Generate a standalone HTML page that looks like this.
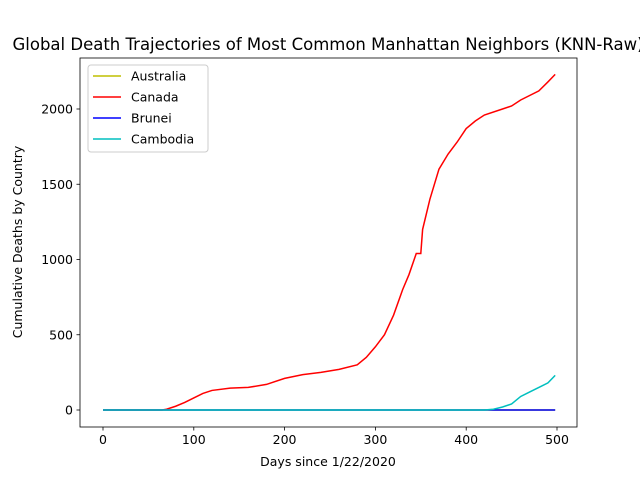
<!DOCTYPE html>
<html><head><meta charset="utf-8"><style>
body{margin:0;background:#fff;width:640px;height:480px;overflow:hidden;font-family:"DejaVu Sans","Liberation Sans",sans-serif}
svg text{font-family:"DejaVu Sans","Liberation Sans",sans-serif;fill:#000}
</style></head><body>
<svg id="c" width="640" height="480" xmlns="http://www.w3.org/2000/svg"></svg>
<script>
const canadaDays=[0,65,70,80,90,100,110,120,140,160,180,200,220,240,260,280,290,300,310,320,330,337,345,350,352,360,370,380,390,400,410,420,440,450,460,480,490,498];
const canadaVals=[0,0,5,25,50,80,110,130,145,150,170,210,235,250,270,300,350,420,500,630,800,900,1040,1040,1200,1400,1600,1700,1780,1870,1920,1960,2000,2020,2060,2120,2180,2230];
const cambodiaDays=[0,420,430,440,450,460,470,480,490,498];
const cambodiaVals=[0,0,5,20,40,90,120,150,180,230];
const zeroDays=[0,498];
const zeroVals=[0,0];
const xTicks=[0,100,200,300,400,500];
const yTicks=[0,500,1000,1500,2000];
const legendNames=["Australia","Canada","Brunei","Cambodia"];
const legendColors=["#bfbf00","#ff0000","#0000ff","#00bfbf"];

const L=80,R=577,T=58,B=427;
const X=d=>103+d*(557-103)/500;
const Y=v=>410-v*(410-109)/2000;
const svg=document.getElementById('c');
const NS="http://www.w3.org/2000/svg";
function mk(t,a,p){const e=document.createElementNS(NS,t);for(const k in a)e.setAttribute(k,a[k]);(p||svg).appendChild(e);return e;}

let t=mk('text',{x:328,y:50,'text-anchor':'middle','font-size':'16.5'});t.textContent="Global Death Trajectories of Most Common Manhattan Neighbors (KNN-Raw)";



function line(days,vals,color,name){
  const p=mk('polyline',{points:days.map((d,i)=>X(d)+','+Y(vals[i])).join(' '),fill:'none',stroke:color,'stroke-width':1.5});
  
  
}
line(zeroDays,zeroVals,legendColors[0],'australia-line');
line(canadaDays,canadaVals,legendColors[1],'canada-line');
line(zeroDays,zeroVals,legendColors[2],'brunei-line');
line(cambodiaDays,cambodiaVals,legendColors[3],'cambodia-line');

let ax=mk('rect',{x:L,y:T,width:R-L,height:B-T,fill:'none',stroke:'#000','stroke-width':0.8});



xTicks.forEach(v=>{
  mk('line',{x1:X(v),x2:X(v),y1:B,y2:B+3.5,stroke:'#000','stroke-width':0.8});
  const e=mk('text',{x:X(v),y:B+17,'text-anchor':'middle','font-size':'12.5'});e.textContent=v;
  
  
});
yTicks.forEach(v=>{
  mk('line',{x1:L,x2:L-3.5,y1:Y(v),y2:Y(v),stroke:'#000','stroke-width':0.8});
  const e=mk('text',{x:L-7,y:Y(v)+4.5,'text-anchor':'end','font-size':'12.5'});e.textContent=v;
  
  
});
let xl=mk('text',{x:328,y:466,'text-anchor':'middle','font-size':'12.5'});xl.textContent="Days since 1/22/2020";


let yl=mk('text',{x:22,y:242,'text-anchor':'middle','font-size':'12.5',transform:'rotate(-90 22 242)'});yl.textContent="Cumulative Deaths by Country";



let lg=mk('rect',{x:88,y:65,width:120,height:87,rx:3,fill:'#fff','fill-opacity':0.8,stroke:'#ccc'});


legendNames.forEach((n,i)=>{
  const y=76+i*21;
  mk('line',{x1:93,x2:121,y1:y,y2:y,stroke:legendColors[i],'stroke-width':1.5});
  const e=mk('text',{x:131,y:y+4.5,'font-size':'12.5'});e.textContent=n;
  
  
});
</script>
</body></html>
